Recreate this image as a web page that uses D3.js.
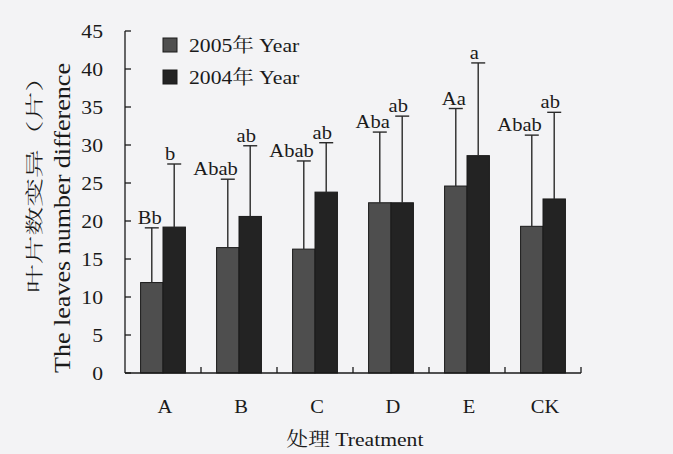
<!DOCTYPE html>
<html><head><meta charset="utf-8">
<script src="https://cdn.jsdelivr.net/npm/d3@7"></script>
<style>
html,body{margin:0;padding:0;background:#f3f3f5;}
svg{display:block;}
text{font-family:"Liberation Serif","Noto Serif CJK SC","Noto Sans CJK SC",serif;fill:#1a1a1a;}
</style></head>
<body>
<script>
const categories = ["A","B","C","D","E","CK"];
const seriesNames = ["2005年 Year","2004年 Year"];
const values2005 = [11.9,16.5,16.3,22.4,24.6,19.3];
const values2004 = [19.2,20.6,23.8,22.4,28.6,22.9];
const err2005 = [7.2,9.0,11.6,9.3,10.2,12.0];
const err2004 = [8.3,9.3,6.5,11.4,12.2,11.4];
const labels2005 = ["Bb","Abab","Abab","Aba","Aa","Abab"];
const labels2004 = ["b","ab","ab","ab","a","ab"];
const yTicks = [0,5,10,15,20,25,30,35,40,45];

(function(){
const W=673,H=454;
const svg=d3.select("body").append("svg").attr("width",W).attr("height",H);
const pL=125,pR=581,pT=31,pB=373;
const y=d3.scaleLinear().domain([0,45]).range([pB,pT]);
const x=d3.scaleBand().domain(categories).range([pL,pR]).paddingInner(0.41).paddingOuter(0.205);
const xs=d3.scaleBand().domain([0,1]).range([0,x.bandwidth()]).padding(0);
const colors=["#4e4e4e","#232323"];
const SX=1.14;
function txt(px,py,s,anchor,size){
  return svg.append("text").attr("transform",`translate(${px},${py}) scale(${SX},1)`)
    .attr("text-anchor",anchor||"start").attr("font-size",size||19).text(s);
}

const series=[
 {vals:values2005,err:err2005,lab:labels2005},
 {vals:values2004,err:err2004,lab:labels2004}
];

series.forEach((s,si)=>{
  const g=svg.append("g");
  g.selectAll("rect").data(categories).join("rect")
   .attr("x",c=>x(c)+xs(si))
   .attr("y",(c,i)=>y(s.vals[i]))
   .attr("width",xs.bandwidth())
   .attr("height",(c,i)=>y(0)-y(s.vals[i]))
   .attr("fill",colors[si]).attr("stroke","#1a1a1a").attr("stroke-width",1);
});
series.forEach((s,si)=>{
  const g=svg.append("g").attr("stroke","#2a2a2a").attr("stroke-width",1.4);
  categories.forEach((c,i)=>{
    const cx=x(c)+xs(si)+xs.bandwidth()/2;
    const y1=y(s.vals[i]),y2=y(s.vals[i]+s.err[i]);
    g.append("line").attr("x1",cx).attr("x2",cx).attr("y1",y1).attr("y2",y2);
    g.append("line").attr("x1",cx-7).attr("x2",cx+7).attr("y1",y2).attr("y2",y2);
    txt(si===0?cx+10:cx-4,y2-4,s.lab[i],si===0?"end":"middle",18);
  });
});

const ax=svg.append("g").attr("stroke","#1a1a1a").attr("stroke-width",1.3).attr("fill","none");
ax.append("line").attr("x1",pL).attr("x2",pL).attr("y1",pT).attr("y2",pB);
ax.append("line").attr("x1",pL).attr("x2",pR).attr("y1",pB).attr("y2",pB);
yTicks.forEach(t=>{
  ax.append("line").attr("x1",pL).attr("x2",pL+6).attr("y1",y(t)).attr("y2",y(t));
  txt(103,y(t)+7,t,"end",19);
});
const step=x.step();
categories.forEach((c,i)=>{
  const bx=pL+step*(i+1);
  ax.append("line").attr("x1",bx).attr("x2",bx).attr("y1",pB).attr("y2",pB-6);
  txt(x(c)+x.bandwidth()/2+2,413,c,"middle",18);
});
txt((pL+pR)/2+2,446,"处理 Treatment","middle",19);

svg.append("text").attr("transform","translate(41,63) rotate(-90)").attr("text-anchor","end").attr("font-size",18)
  .attr("font-family","Noto Sans CJK SC").attr("font-weight",300)
  .attr("textLength",230).attr("lengthAdjust","spacingAndGlyphs").text("叶片数变异（片）");
svg.append("text").attr("transform","translate(70,63) rotate(-90)").attr("text-anchor","end").attr("font-size",23)
  .attr("textLength",310).attr("lengthAdjust","spacingAndGlyphs").text("The leaves number difference");

seriesNames.forEach((n,i)=>{
  const ly=45+i*32;
  svg.append("rect").attr("x",163).attr("y",ly-7).attr("width",14).attr("height",14).attr("fill",colors[i]).attr("stroke","#1a1a1a");
  txt(189,ly+7,n,"start",19);
});
})();
</script>
</body></html>
